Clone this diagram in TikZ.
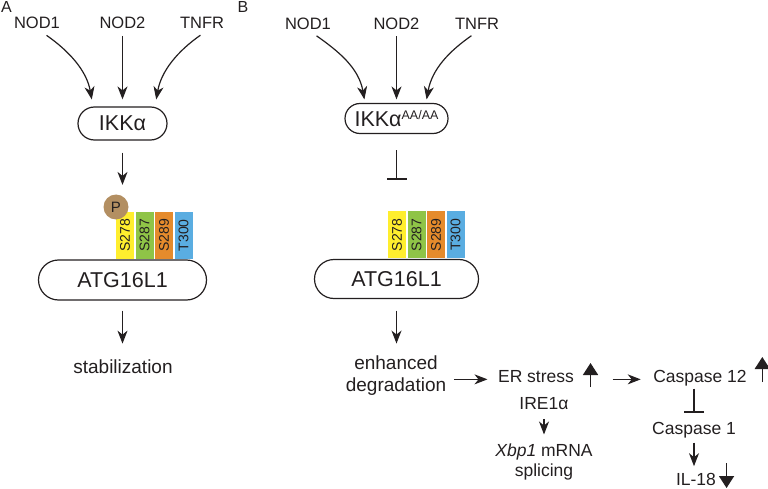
\documentclass[tikz,border=0pt]{standalone}
\usepackage{fontspec}
\setmainfont{Liberation Sans}
\usetikzlibrary{positioning, shapes.geometric, arrows.meta}
\definecolor{ink}{HTML}{231F20}
\definecolor{siteYellow}{HTML}{FFEE2E}
\definecolor{siteGreen}{HTML}{8FC447}
\definecolor{siteOrange}{HTML}{E58B2C}
\definecolor{siteBlue}{HTML}{5AADE1}
\definecolor{phosTan}{HTML}{B38F62}

\begin{document}
\begin{tikzpicture}[x=1pt, y=-1pt, color=ink, line width=1.2pt,
  lbl/.style={font=\fontsize{16.5}{19}\selectfont, text=ink, inner sep=1pt, anchor=base},
  big/.style={font=\fontsize{19}{22}\selectfont, text=ink, inner sep=1pt, anchor=base, align=center},
  pill/.style={draw=ink, rounded corners=#1, inner sep=0pt, font=\fontsize{21.5}{24}\selectfont},
  site/.style={rotate=90, minimum width=47pt, minimum height=18pt, inner sep=0pt, anchor=west, font=\fontsize{14}{14}\selectfont, text=ink},
  arr/.style={-{Stealth[length=13pt, width=10pt, inset=4pt]}},
  blk/.style={-{Triangle[length=12pt, width=15pt]}, line width=1.6pt},
  inh/.style={-{Bar[width=20pt]}}]
\useasboundingbox (0,0) rectangle (768,489);

\node[font=\fontsize{16}{16}\selectfont, anchor=base west, inner sep=0pt] (panA) at (0.5,12.5) {A};
\node[font=\fontsize{16}{16}\selectfont, anchor=base west, inner sep=0pt] (panB) at (237,12.5) {B};

% panel A
\node[lbl] (nodA1) at (37,29) {NOD1};
\node[lbl] (nodA2) at (122.5,29) {NOD2};
\node[lbl] (tnfA) at (202,29) {TNFR};
\node[pill=16.5pt, minimum width=89pt, minimum height=33pt] (ikkA) at (122.5,123.5) {IKKα};
\node[pill=20pt, minimum width=168pt, minimum height=40pt] (atgA) at (122.5,280) {ATG16L1};
\foreach \lab/\col [count=\i] in {S278/siteYellow, S287/siteGreen, S289/siteOrange, T300/siteBlue}
  \node[site, fill=\col] (siteA\i) at ([xshift={2.5pt+19.5pt*(\i-1)}]atgA.north) {\lab};
\node[circle, fill=phosTan, minimum size=25pt, inner sep=0pt, font=\fontsize{15}{15}\selectfont] (phosA) at (116,207) {P};
\node[big] (stabA) at (123,373) {stabilization};

\draw[arr, shorten <=8pt, shorten >=7pt] ([xshift=3pt]nodA1.south) to[out=-35, in=100] ([xshift=-29.5pt]ikkA.north);
\draw[arr, shorten <=5pt, shorten >=7pt] (nodA2.south) -- (ikkA.north);
\draw[arr, shorten <=8pt, shorten >=7pt] ([xshift=5pt]tnfA.south) to[out=-145, in=80] ([xshift=32.5pt]ikkA.north);
\draw[arr, shorten <=12pt, shorten >=9pt] (ikkA.south) -- (ikkA.south |- phosA.north);
\draw[arr, shorten <=10pt, shorten >=14pt] (atgA.south) -- (atgA.south |- stabA.north);

% panel B
\node[lbl] (nodB1) at (308,29.5) {NOD1};
\node[lbl] (nodB2) at (396.5,29.5) {NOD2};
\node[lbl] (tnfB) at (477,29.5) {TNFR};
\node[pill=15pt, minimum width=103pt, minimum height=30pt] (ikkB) at (396.5,118.5) {IKKα\raisebox{7pt}{\fontsize{12.5}{12.5}\selectfont AA/AA}};
\node[pill=19.5pt, minimum width=164pt, minimum height=39pt] (atgB) at (396.5,279) {ATG16L1};
\foreach \lab/\col [count=\i] in {S278/siteYellow, S287/siteGreen, S289/siteOrange, T300/siteBlue}
  \node[site, fill=\col] (siteB\i) at ([xshift={0.5pt+19.5pt*(\i-1)}]atgB.north) {\lab};
\node[big, anchor=center] (degB) at (396,376) {enhanced\\degradation};

\draw[arr, shorten <=8pt, shorten >=3.5pt] ([xshift=2pt]nodB1.south) to[out=-35, in=100] ([xshift=-31.5pt]ikkB.north);
\draw[arr, shorten <=5pt, shorten >=3.5pt] (nodB2.south) -- (ikkB.north);
\draw[arr, shorten <=8pt, shorten >=3.5pt] ([xshift=1pt]tnfB.south) to[out=-145, in=80] ([xshift=29.5pt]ikkB.north);
\draw[inh, shorten <=16pt, shorten >=31pt] (ikkB.south) -- (ikkB.south |- siteB1.east);
\draw[arr, shorten <=11.5pt, shorten >=11pt] (atgB.south) -- (atgB.south |- degB.north);

\node[lbl, font=\fontsize{17.5}{20}\selectfont] (erS) at (536,382) {ER stress};
\node[lbl, font=\fontsize{17.5}{20}\selectfont] (casp12) at (700,382) {Caspase 12};
\node[lbl, font=\fontsize{17.5}{20}\selectfont] (ire) at (544,409) {IRE1α};
\node[lbl, font=\fontsize{17.5}{19.5}\selectfont, align=center, anchor=center] (xbp) at (544,462) {\textit{Xbp1} mRNA\\splicing};
\node[lbl, font=\fontsize{17.5}{20}\selectfont] (casp1) at (694,434) {Caspase 1};
\node[lbl, font=\fontsize{17.5}{20}\selectfont] (il18) at (696,485) {IL-18};

\draw[arr, shorten <=6pt, shorten >=9pt] (degB.east |- erS.mid) -- (erS.mid west);
\draw[blk] ([xshift=15pt, yshift=-5pt]erS.base east) -- ++(0,-24);
\draw[arr, shorten <=37pt, shorten >=11pt] (erS.mid east) -- (casp12.mid west);
\draw[blk] ([xshift=14pt]casp12.base east) -- ++(0,-25);
\draw[arr, shorten <=8pt, shorten >=8pt] (ire.south) -- (xbp.north);
\draw[inh, shorten <=1.5pt, shorten >=7.5pt] (casp12.south -| casp1.north) -- (casp1.north);
\draw[arr, shorten <=3.5pt, shorten >=5pt] (casp1.south) -- (casp1.south |- il18.north);
\draw[blk] ([xshift=9pt, yshift=22pt]il18.base east) -- ++(0,25);
\end{tikzpicture}
\end{document}
